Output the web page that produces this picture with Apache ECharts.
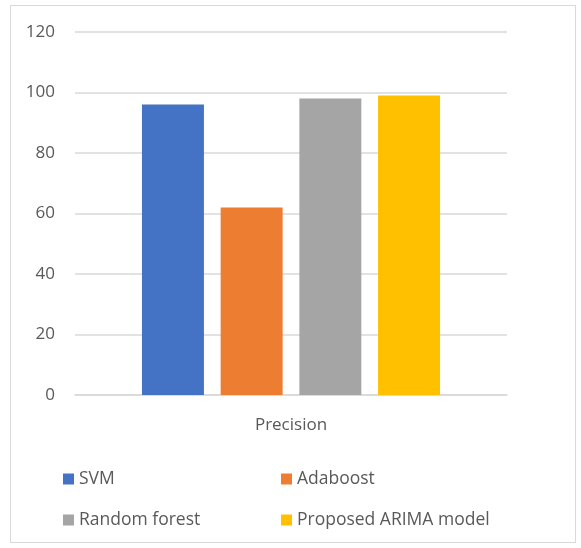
<!DOCTYPE html>
<html>
<head>
<meta charset="utf-8">
<script src="https://cdn.jsdelivr.net/npm/echarts@6/dist/echarts.min.js"></script>
<style>
  html, body { margin: 0; padding: 0; background: #fff; }
  #frame { position: absolute; left: 10px; top: 5px; width: 566px; height: 538px; border: 1px solid #d9d9d9; box-sizing: border-box; }
  #chart { width: 581px; height: 548px; position: absolute; left: 0; top: 0; }
</style>
</head>
<body>
<div id="frame"></div>
<div id="chart"></div>
<script>
const categories = ['Precision'];
const seriesNames = ['SVM', 'Adaboost', 'Random forest', 'Proposed ARIMA model'];
const seriesValues = [[96], [62], [98], [99]];
const seriesColors = ['#4472c4', '#ed7d31', '#a5a5a5', '#ffc000'];

const chart = echarts.init(document.getElementById('chart'));
const font = '"Open Sans", sans-serif';

chart.setOption({
    animation: false,
    grid: { left: 75, right: 74, top: 32, bottom: 153, containLabel: false },
    xAxis: {
        type: 'category',
        data: categories,
        axisLine: { lineStyle: { color: '#d9d9d9', width: 1.5 } },
        axisTick: { show: false },
        axisLabel: { color: '#595959', fontSize: 17, margin: 22, fontFamily: font }
    },
    yAxis: {
        type: 'value',
        min: 0,
        max: 120,
        interval: 20,
        axisLine: { show: false },
        axisTick: { show: false },
        splitLine: { lineStyle: { color: '#d9d9d9', width: 1.5 } },
        axisLabel: { color: '#595959', fontSize: 17, margin: 20, fontFamily: font }
    },
    legend: [
        {
            data: [seriesNames[0], seriesNames[2]],
            orient: 'vertical', left: 58, top: 465,
            itemWidth: 11, itemHeight: 11, itemGap: 23,
            icon: 'rect',
            textStyle: { color: '#595959', fontSize: 17.5, fontFamily: font }
        },
        {
            data: [seriesNames[1], seriesNames[3]],
            orient: 'vertical', left: 276, top: 465,
            itemWidth: 11, itemHeight: 11, itemGap: 23,
            icon: 'rect',
            textStyle: { color: '#595959', fontSize: 17.5, fontFamily: font }
        }
    ],
    series: seriesNames.map((name, i) => ({
        name: name,
        type: 'bar',
        data: seriesValues[i],
        barGap: '27%',
        barCategoryGap: '31%',
        itemStyle: { color: seriesColors[i] }
    }))
});
</script>
</body>
</html>
